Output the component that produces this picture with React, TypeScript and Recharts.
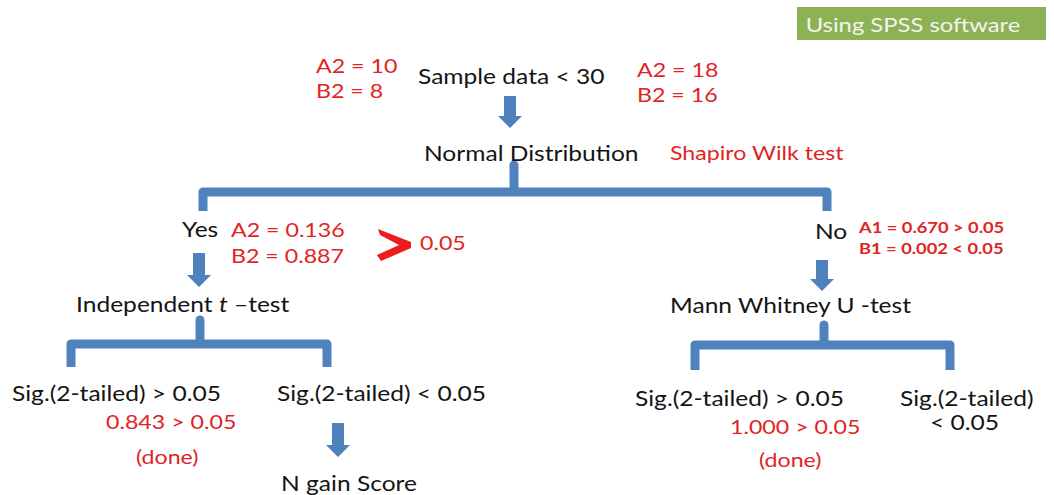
import React from 'react';
import { ComposedChart, XAxis, YAxis, Scatter, Line, ReferenceArea } from 'recharts';

const W = 1054;
const H = 495;
const BLUE = '#4f81bd';
const RED = '#e02424';
const INK = '#141414';

// text boxes of the flow chart: left edge x, middle y (slide pixels)
const blackLabels = [
  { x: 418, y: 76, text: 'Sample data < 30' },
  { x: 424, y: 153, text: 'Normal Distribution' },
  { x: 182, y: 229, text: 'Yes' },
  { x: 76, y: 304, text: 'Independent |t| \u2013test' },
  { x: 12, y: 393, text: 'Sig.(2-tailed) > 0.05' },
  { x: 277, y: 393, text: 'Sig.(2-tailed) < 0.05' },
  { x: 281, y: 483, text: 'N gain Score' },
  { x: 815, y: 231, text: 'No' },
  { x: 670, y: 305, text: 'Mann Whitney U -test' },
  { x: 635, y: 398, text: 'Sig.(2-tailed) > 0.05' },
  { x: 900, y: 398, text: 'Sig.(2-tailed)' },
  { x: 930, y: 422, text: '< 0.05' },
];

const redLabels = [
  { x: 316, y: 66, text: 'A2 = 10' },
  { x: 316, y: 91, text: 'B2 = 8' },
  { x: 637, y: 70, text: 'A2 = 18' },
  { x: 637, y: 95, text: 'B2 = 16' },
  { x: 670, y: 153, text: 'Shapiro Wilk test' },
  { x: 231, y: 230, text: 'A2 = 0.136' },
  { x: 231, y: 256, text: 'B2 = 0.887' },
  { x: 420, y: 243, text: '0.05' },
  { x: 106, y: 422, text: '0.843 > 0.05' },
  { x: 136, y: 457, text: '(done)' },
  { x: 730, y: 427, text: '1.000 > 0.05' },
  { x: 759, y: 460, text: '(done)' },
];

const smallRedLabels = [
  { x: 859, y: 227, text: 'A1 = 0.670 > 0.05' },
  { x: 859, y: 248, text: 'B1 = 0.002 < 0.05' },
];

// big red "greater than" sign
const chevron = [{ x: 378, y: 245 }];

const badge = [{ x: 913, y: 24, text: 'Using SPSS software' }];
const badgeBox = { x1: 797, x2: 1046, y1: 7, y2: 40 };

// block arrows: x, top y, tip y
const arrows = [
  { x: 510, y: 96, tip: 128 },
  { x: 199, y: 253, tip: 287 },
  { x: 338, y: 423, tip: 457 },
  { x: 822, y: 260, tip: 291 },
];

// braces: left leg, middle, right leg, bar y, tick top, leg end
const braces = [
  { left: 203, mid: 514, right: 827, bar: 192, tick: 165, end: 211 },
  { left: 71, mid: 200, right: 327, bar: 344, tick: 320, end: 367 },
  { left: 695, mid: 824, right: 950, bar: 345, tick: 325, end: 370 },
];

const bracePoints = (b: typeof braces[number]) => [
  { x: b.left, y: b.end },
  { x: b.left, y: b.bar },
  { x: b.mid, y: b.bar },
  { x: b.mid, y: b.tick },
  { x: b.mid, y: b.bar },
  { x: b.right, y: b.bar },
  { x: b.right, y: b.end },
];

const FONT = 'Lato, "Open Sans", sans-serif';

// the slide font is wide, so Lato is stretched sideways a bit
const makeText = (fill: string, size: number, sx: number, weight = 400, anchor = 'start') => (props: any) => {
  const { cx, cy, payload } = props;
  const parts = String(payload.text).split('|');
  return (
    <text
      x={0}
      y={0}
      transform={`translate(${cx},${cy}) scale(${sx},1)`}
      fill={fill}
      fontSize={size}
      fontWeight={weight}
      fontFamily={FONT}
      textAnchor={anchor}
      dominantBaseline="central"
    >
      {parts.map((p, i) => (
        <tspan key={i} fontStyle={i % 2 ? 'italic' : 'normal'}>
          {p}
        </tspan>
      ))}
    </text>
  );
};

const ArrowShape = (props: any) => {
  const { cx, cy, payload } = props;
  const len = payload.tip - payload.y;
  const shaft = 6;
  const head = 12;
  const headLen = 12;
  const d = [
    `M${cx - shaft},${cy}`,
    `L${cx + shaft},${cy}`,
    `L${cx + shaft},${cy + len - headLen}`,
    `L${cx + head},${cy + len - headLen}`,
    `L${cx},${cy + len}`,
    `L${cx - head},${cy + len - headLen}`,
    `L${cx - shaft},${cy + len - headLen}`,
    'Z',
  ].join(' ');
  return <path d={d} fill={BLUE} />;
};

const ChevronShape = (props: any) => {
  const { cx, cy } = props;
  const d = [
    `M${cx},${cy - 16}`,
    `L${cx + 33},${cy - 3}`,
    `L${cx + 33},${cy + 3}`,
    `L${cx + 3},${cy + 16}`,
    `L${cx - 1},${cy + 10}`,
    `L${cx + 21},${cy}`,
    `L${cx + 2},${cy - 10}`,
    'Z',
  ].join(' ');
  return <path d={d} fill="#ee1c1c" />;
};

export default function App() {
  return (
    <div style={{ position: 'absolute', left: 0, top: 0, width: W, height: H, background: '#fff' }}>
      <ComposedChart width={W} height={H} margin={{ top: 0, right: 0, bottom: 0, left: 0 }}>
        <XAxis dataKey="x" type="number" domain={[0, W]} hide />
        <YAxis dataKey="y" type="number" domain={[0, H]} reversed hide />
        <ReferenceArea {...badgeBox} fill="#8db255" fillOpacity={1} stroke="none" />
        {braces.map((b, i) => (
          <Line
            key={i}
            data={bracePoints(b)}
            dataKey="y"
            stroke={BLUE}
            strokeWidth={9}
            strokeLinejoin="round"
            dot={false}
            activeDot={false}
            isAnimationActive={false}
          />
        ))}
        <Scatter data={arrows} dataKey="y" shape={ArrowShape} isAnimationActive={false} />
        <Scatter data={chevron} dataKey="y" shape={ChevronShape} isAnimationActive={false} />
        <Scatter data={blackLabels} dataKey="y" shape={makeText(INK, 21, 1.17)} isAnimationActive={false} />
        <Scatter data={redLabels} dataKey="y" shape={makeText(RED, 19, 1.22)} isAnimationActive={false} />
        <Scatter data={smallRedLabels} dataKey="y" shape={makeText(RED, 15, 1.22, 700)} isAnimationActive={false} />
        <Scatter data={badge} dataKey="y" shape={makeText('#f2f5ee', 20, 1.19, 400, 'middle')} isAnimationActive={false} />
      </ComposedChart>
    </div>
  );
}
